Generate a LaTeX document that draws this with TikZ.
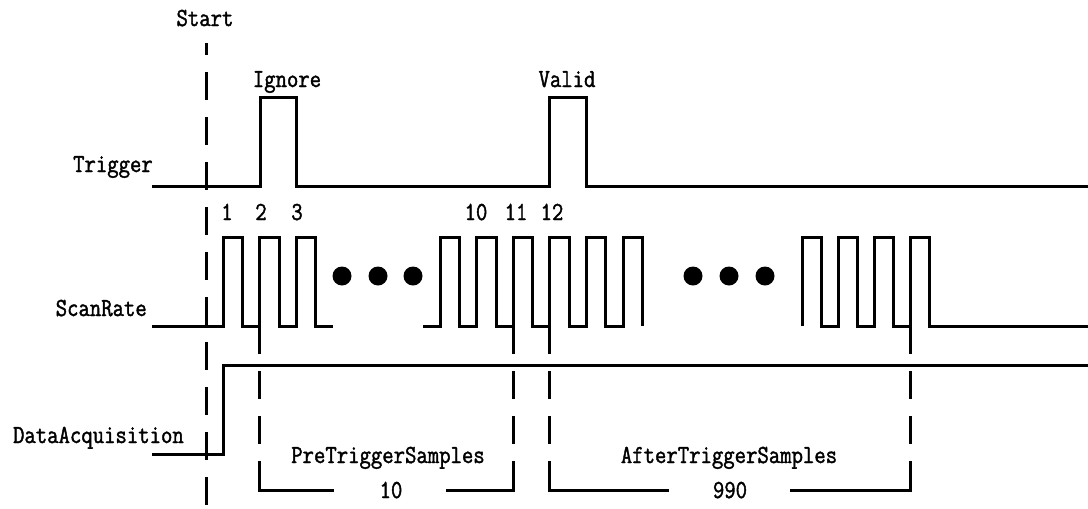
\documentclass[tikz,border=0pt]{standalone}
\usepackage{fontspec}
\newfontfamily\wavefont[FakeStretch=0.85,FakeBold=1.5]{Latin Modern Mono}
\usetikzlibrary{positioning}

\tikzset{
  wave/.style={line width=3pt, line join=miter},
  guide/.style={line width=3pt, dash pattern=on 28pt off 17pt},
  lbl/.style={font=\wavefont\fontsize{26}{28}\selectfont, inner sep=0pt}
}

\begin{document}
\begin{tikzpicture}[x=1pt,y=-1pt]
			\useasboundingbox (0,0) rectangle (1088,509);
			\node[lbl, anchor=base] (start) at (205,26) {Start};
			\node[lbl, anchor=base] (ignore) at (287,87) {Ignore};
			\node[lbl, anchor=base] (valid) at (567,87) {Valid};
			\node[lbl, anchor=base east] (trig) at (153,172) {Trigger};
			\node[lbl, anchor=base east] (scan) at (147,316) {ScanRate};
			\node[lbl, anchor=base east] (daq) at (184,443) {DataAcquisition};
			\node[lbl, anchor=base] (n1) at (227,220) {1};
			\node[lbl, anchor=base] (n2) at (261,220) {2};
			\node[lbl, anchor=base] (n3) at (297,220) {3};
			\node[lbl, anchor=base] (n10) at (476,220) {10};
			\node[lbl, anchor=base] (n11) at (516,220) {11};
			\node[lbl, anchor=base] (n12) at (552,220) {12};
			\node[lbl, anchor=base] (pre) at (388,463) {PreTriggerSamples};
			\node[lbl, anchor=base] (pren) at (391,498) {10};
			\node[lbl, anchor=base] (post) at (729,463) {AfterTriggerSamples};
			\node[lbl, anchor=base] (postn) at (730,498) {990};
			\draw[guide, dash phase=16pt] (206,43) -- (206,509);
			\draw[wave] (152,186) -- (260,186) -- (260,97) -- (296,97) -- (296,186)
				-- (549,186) -- (549,97) -- (586,97) -- (586,186) -- (1088,186);
			\draw[wave] (152,326) \foreach \r in {223,259.6,296.2}{ -- (\r,326) -- (\r,237) -- (\r+19.5,237) -- (\r+19.5,326)} -- (333,326);
			\draw[wave] (423,326) \foreach \r in {440,476.6,513.2,549.8,586.4,623}{ -- (\r,326) -- (\r,237) -- (\r+19.5,237) -- (\r+19.5,326)};
			\draw[wave] (802,326) \foreach \r in {802,838,874,910}{ -- (\r,326) -- (\r,237) -- (\r+19.5,237) -- (\r+19.5,326)} -- (1088,326);
			\foreach \d in {342,378,413,693,729,765}
				\fill (\d,276) circle(9.5);
			\draw[wave] (152,454) -- (223,454) -- (223,365) -- (1088,365);
			\foreach \g in {259.6,513.2,549.8,910}
				\draw[guide] (\g,326) -- (\g,490);
			\draw[wave] (259.6,461) -- (259.6,490) -- (334,490);
			\draw[wave] (446,490) -- (513.2,490) -- (513.2,461);
			\draw[wave] (549.8,461) -- (549.8,490) -- (669,490);
			\draw[wave] (790,490) -- (910,490) -- (910,461);
		\end{tikzpicture}
\end{document}
